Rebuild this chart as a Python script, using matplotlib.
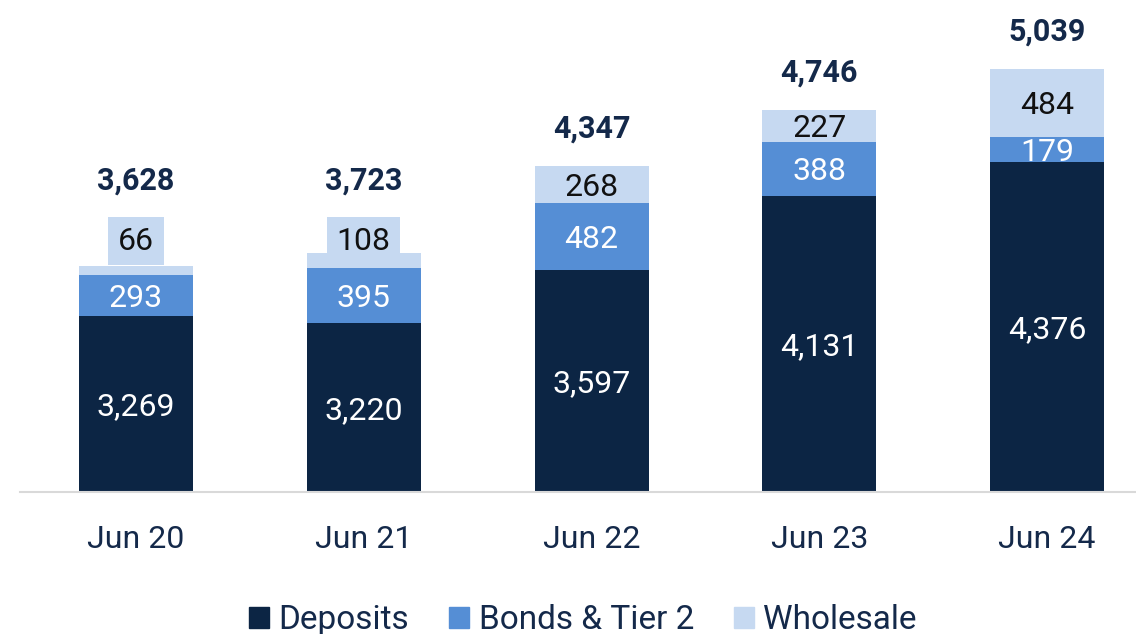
import matplotlib.pyplot as plt

plt.rcParams['font.family'] = ['Roboto', 'DejaVu Sans']

# данные
years = ['Jun 20', 'Jun 21', 'Jun 22', 'Jun 23', 'Jun 24']
deposits = [3269, 3220, 3597, 4131, 4376]
bonds = [293, 395, 482, 388, 179]
wholesale = [66, 108, 268, 227, 484]
totals = [3628, 3723, 4347, 4746, 5039]

c_dep = '#0C2544'
c_bond = '#558ED5'
c_whole = '#C6D9F1'
navy = '#14294A'

fig = plt.figure(figsize=(11.36, 6.34), dpi=100)
ax = fig.add_axes([20 / 1136, 1 - 492 / 634, 1 - 20 / 1136, 492 / 634])

x = list(range(len(years)))
ax.bar(x, deposits, width=0.5, color=c_dep)
bottoms2 = deposits
ax.bar(x, bonds, width=0.5, bottom=bottoms2, color=c_bond)
bottoms3 = [d + b for d, b in zip(deposits, bonds)]
ax.bar(x, wholesale, width=0.5, bottom=bottoms3, color=c_whole)

ymin, ymax = 2007, 5534
ax.set_ylim(ymin, ymax)
ax.set_xlim(-0.509, 4.39)

# маленькие подписи Wholesale выносятся над столбцами на общий уровень
small = [i for i in x if wholesale[i] < 150]
y_small = max(totals[i] for i in small)

fs = 23
for i in x:
    # подписи внутри столбцов
    ax.text(i, (ymin + deposits[i]) / 2, f'{deposits[i]:,}', ha='center', va='center_baseline',
            color='white', fontsize=fs)
    ax.text(i, deposits[i] + bonds[i] / 2, f'{bonds[i]:,}', ha='center', va='center_baseline',
            color='white', fontsize=fs)
    top = totals[i]
    if i in small:
        ax.annotate(f'{wholesale[i]:,}', (i, y_small), xytext=(0, 8.3), textcoords='offset points',
                    ha='center', va='center', color='#111111', fontsize=fs,
                    bbox=dict(boxstyle='square,pad=0.3', fc=c_whole, ec='none'))
        top = y_small
        off = 54.4
    else:
        ax.text(i, bottoms3[i] + wholesale[i] / 2, f'{wholesale[i]:,}', ha='center',
                va='center_baseline', color='#111111', fontsize=fs)
        off = 29
    ax.annotate(f'{totals[i]:,}', (i, top), xytext=(0, off), textcoords='offset points',
                ha='center', va='center_baseline', color=navy, fontsize=fs - 1, fontweight='bold')

ax.set_xticks(x)
ax.set_xticklabels(years, fontsize=fs, color=navy)
ax.tick_params(axis='x', length=0, pad=24)
ax.set_yticks([])
for s in ['top', 'right', 'left']:
    ax.spines[s].set_visible(False)
ax.spines['bottom'].set_color('#D9D9D9')
ax.spines['bottom'].set_linewidth(1.5)

handles = [plt.Rectangle((0, 0), 1, 1, color=c) for c in (c_dep, c_bond, c_whole)]
leg = fig.legend(handles, ['Deposits', 'Bonds & Tier 2', 'Wholesale'], loc='center',
                 bbox_to_anchor=(583 / 1136, 1 - 620 / 634), ncol=3, frameon=False,
                 fontsize=24, handlelength=0.6, handleheight=0.6, handletextpad=0.28,
                 columnspacing=1.2, borderaxespad=0)
for t in leg.get_texts():
    t.set_color(navy)

fig.savefig('out.png', dpi=100)
